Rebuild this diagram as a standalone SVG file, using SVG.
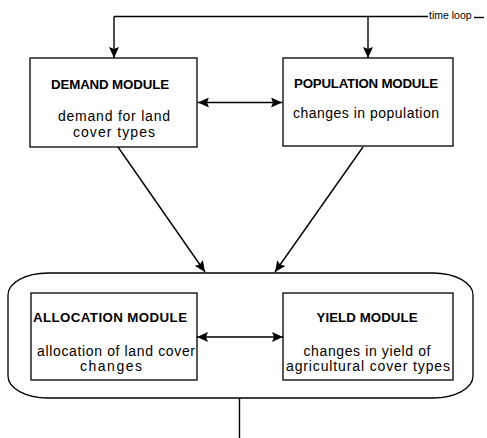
<svg xmlns="http://www.w3.org/2000/svg" width="487" height="438" viewBox="0 0 487 438">
  <style>
    .box { fill: #ffffff; stroke: #000000; stroke-width: 1.3; }
    .frame { fill: none; stroke: #000000; stroke-width: 1.3; }
    .line { fill: none; stroke: #000000; stroke-width: 1.4; }
    .title { font-family: "Liberation Sans", Arial, sans-serif; font-weight: bold; font-size: 13.3px; fill: #000000; text-anchor: middle; }
    .body { font-family: "Liberation Sans", Arial, sans-serif; font-size: 14px; fill: #000000; text-anchor: middle; }
    .note { font-family: "Liberation Sans", Arial, sans-serif; font-size: 10.5px; fill: #000000; }
  </style>
  <defs>
    <marker id="arrow" markerUnits="userSpaceOnUse" markerWidth="12" markerHeight="10" refX="11" refY="5" orient="auto-start-reverse">
      <path d="M0,0 L11,5 L0,10 L2,5 Z" fill="#000000"/>
    </marker>
  </defs>

  <!-- outer frame around allocation and yield modules -->
  <rect id="model-frame" class="frame" x="8" y="273" width="465" height="125" rx="40" ry="22"/>

  <g id="connectors">
    <!-- time loop -->
    <path class="line" d="M114,16.5 L428,16.5"/>
    <path class="line" d="M474,17.5 L484,17.5"/>
    <path class="line" d="M114,16.5 L114,58" marker-end="url(#arrow)"/>
    <path class="line" d="M368,16.5 L368,58" marker-end="url(#arrow)"/>
    <!-- demand <-> population -->
    <path class="line" d="M198,102.5 L282,102.5" marker-start="url(#arrow)" marker-end="url(#arrow)"/>
    <!-- modules feeding the frame -->
    <path class="line" d="M118,147 L205,272" marker-end="url(#arrow)"/>
    <path class="line" d="M363,147 L275,272" marker-end="url(#arrow)"/>
    <!-- allocation <-> yield -->
    <path class="line" d="M197,337 L283,337" marker-start="url(#arrow)" marker-end="url(#arrow)"/>
    <!-- output -->
    <path class="line" d="M239.5,398 L239.5,438"/>
  </g>

  <text class="note" x="429" y="19">time loop</text>

  <g id="demand-module">
    <rect class="box" x="30" y="58" width="167" height="89"/>
    <text class="title" x="110" y="89" textLength="118">DEMAND MODULE</text>
    <text class="body" x="114" y="121" textLength="112">demand for land</text>
    <text class="body" x="114" y="136.5" textLength="82">cover types</text>
  </g>

  <g id="population-module">
    <rect class="box" x="283" y="58" width="170" height="88"/>
    <text class="title" x="366" y="88" textLength="144">POPULATION MODULE</text>
    <text class="body" x="366" y="118" textLength="146">changes in population</text>
  </g>

  <g id="allocation-module">
    <rect class="box" x="31" y="293" width="166" height="87"/>
    <text class="title" x="110" y="322" textLength="154">ALLOCATION MODULE</text>
    <text class="body" x="116" y="356" textLength="158">allocation of land cover</text>
    <text class="body" x="111" y="371" textLength="62">changes</text>
  </g>

  <g id="yield-module">
    <rect class="box" x="283" y="293" width="170" height="87"/>
    <text class="title" x="367" y="322" textLength="101">YIELD MODULE</text>
    <text class="body" x="367" y="356" textLength="127">changes in yield of</text>
    <text class="body" x="368" y="371" textLength="164">agricultural cover types</text>
  </g>
</svg>
